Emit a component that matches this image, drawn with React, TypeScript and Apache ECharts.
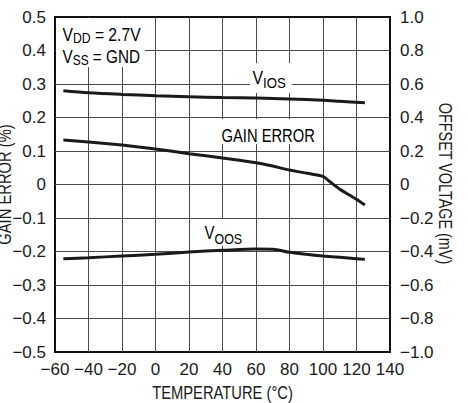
import React, { useEffect, useRef } from "react";
import * as echarts from "echarts";

const FONT = "'Liberation Sans Narrow', 'Liberation Sans', Arial, sans-serif";

// X axis (temperature, °C)
const xMin = -60;
const xMax = 140;
const xStep = 20;
// Left axis: gain error (%)
const leftMin = -0.5;
const leftMax = 0.5;
const leftStep = 0.1;
// Right axis: offset voltage (mV)
const rightMin = -1.0;
const rightMax = 1.0;
const rightStep = 0.2;

// V_IOS (mV, right axis)
const viosTemp = [-55, -40, -20, 0, 20, 40, 60, 80, 100, 110, 125];
const viosMv = [0.56, 0.548, 0.538, 0.53, 0.524, 0.519, 0.516, 0.51, 0.503, 0.497, 0.488];

// Gain error (%, left axis)
const gainTemp = [-55, -40, -20, 0, 20, 40, 60, 70, 80, 90, 100, 104, 110, 120, 125];
const gainPct = [0.133, 0.127, 0.118, 0.106, 0.092, 0.079, 0.065, 0.055, 0.043, 0.034, 0.024, 0.009, -0.014, -0.044, -0.061];

// V_OOS (mV, right axis)
const voosTemp = [-55, -40, -20, 0, 20, 40, 60, 70, 80, 90, 100, 110, 120, 125];
const voosMv = [-0.443, -0.437, -0.427, -0.417, -0.403, -0.393, -0.385, -0.386, -0.405, -0.417, -0.427, -0.435, -0.443, -0.447];

const fmt = (v: number, digits: number) => {
  if (Math.abs(v) < 1e-9) return "0";
  const s = Math.abs(v).toFixed(digits);
  return (v < 0 ? "\u2212" : "") + s;
};

const pairs = (xs: number[], ys: number[]) => xs.map((x, i) => [x, ys[i]]);

const INK = "#1a1a1a";

const richSub = (subSize: number, padTop: number) => ({
  m: { fontSize: 18, fontFamily: FONT, color: INK, lineHeight: 20, verticalAlign: "middle" },
  s: { fontSize: subSize, fontFamily: FONT, color: INK, lineHeight: 10, verticalAlign: "top", padding: [padTop, 0, 0, 0] },
});

export default function App() {
  const ref = useRef<HTMLDivElement>(null);
  useEffect(() => {
    if (!ref.current) return;
    const chart = echarts.init(ref.current, undefined, { renderer: "svg" });
    const lineStyle = { color: INK, width: 3 };
    const axisLabelBase = { color: INK, fontSize: 17, fontFamily: FONT };
    const splitLine = { show: true, showMinLine: false, showMaxLine: false, lineStyle: { color: "#4a4a4a", width: 1 } };
    const titleStyle = { fontSize: 18, fontFamily: FONT, fill: INK, align: "center", verticalAlign: "middle" };
    chart.setOption({
      animation: false,
      backgroundColor: "#ffffff",
      grid: { left: 55, right: 78, top: 17, bottom: 51, show: true, borderColor: "#111", borderWidth: 2, backgroundColor: "transparent" },
      xAxis: {
        type: "value",
        min: xMin,
        max: xMax,
        interval: xStep,
        axisLine: { show: false },
        axisTick: { show: false },
        splitLine,
        axisLabel: { ...axisLabelBase, margin: 9, formatter: (v: number) => fmt(v, 0) },
      },
      yAxis: [
        {
          type: "value",
          min: leftMin,
          max: leftMax,
          interval: leftStep,
          axisLine: { show: false },
          axisTick: { show: false },
          splitLine,
          axisLabel: { ...axisLabelBase, margin: 9, formatter: (v: number) => fmt(v, 1) },
        },
        {
          type: "value",
          position: "right",
          min: rightMin,
          max: rightMax,
          interval: rightStep,
          axisLine: { show: false },
          axisTick: { show: false },
          splitLine: { show: false },
          axisLabel: { ...axisLabelBase, margin: 10, formatter: (v: number) => fmt(v, 1) },
        },
      ],
      series: [
        { type: "line", yAxisIndex: 1, data: pairs(viosTemp, viosMv), showSymbol: false, smooth: 0.3, lineStyle },
        { type: "line", yAxisIndex: 0, data: pairs(gainTemp, gainPct), showSymbol: false, smooth: 0.1, lineStyle },
        { type: "line", yAxisIndex: 1, data: pairs(voosTemp, voosMv), showSymbol: false, smooth: 0.3, lineStyle },
      ],
      graphic: [
        { type: "rect", z: 10, shape: { x: 56, y: 18, width: 89, height: 49 }, style: { fill: "#fff" } },
        { type: "text", z: 11, x: 62.5, y: 25.5, scaleX: 0.87, style: { text: "{m|V}{s|DD}{m| = 2.7V}", rich: richSub(14, 6) } },
        { type: "text", z: 11, x: 62.5, y: 46.8, scaleX: 0.85, style: { text: "{m|V}{s|SS}{m| = GND}", rich: richSub(14, 6.5) } },
        { type: "rect", z: 10, shape: { x: 250, y: 63, width: 42, height: 30 }, style: { fill: "#fff" } },
        { type: "text", z: 11, x: 252.5, y: 67.8, scaleX: 0.88, style: { text: "{m|V}{s|IOS}", rich: richSub(15, 7.8) } },
        { type: "rect", z: 10, shape: { x: 218, y: 119, width: 102, height: 25 }, style: { fill: "#fff" } },
        { type: "text", z: 11, x: 221.5, y: 125.8, scaleX: 0.82, style: { text: "{m|GAIN ERROR}", rich: richSub(15, 7) } },
        { type: "rect", z: 10, shape: { x: 202, y: 219, width: 42, height: 27 }, style: { fill: "#fff" } },
        { type: "text", z: 11, x: 204.5, y: 222.5, scaleX: 0.83, style: { text: "{m|V}{s|OOS}", rich: richSub(15, 9) } },
        {
          type: "text", z: 11, x: 222.5, y: 392.8, scaleX: 0.82,
          style: { text: "TEMPERATURE (\u00B0C)", ...titleStyle },
        },
        {
          type: "text", z: 11, x: 4.2, y: 184.5, rotation: Math.PI / 2, scaleX: 0.82,
          style: { text: "GAIN ERROR (%)", ...titleStyle },
        },
        {
          type: "text", z: 11, x: 445.5, y: 183.5, rotation: -Math.PI / 2, scaleX: 0.8,
          style: { text: "OFFSET VOLTAGE (mV)", ...titleStyle },
        },
      ],
    });
    return () => chart.dispose();
  }, []);
  return <div ref={ref} style={{ position: "fixed", left: 0, top: 0, width: 468, height: 403 }} />;
}
